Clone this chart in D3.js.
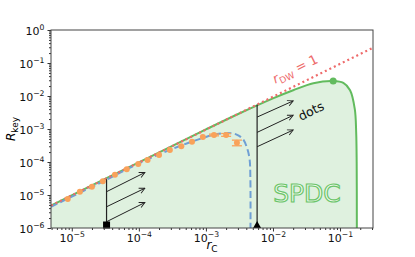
<!DOCTYPE html>
<html>
<head>
<meta charset="utf-8">
<script src="https://cdn.jsdelivr.net/npm/d3@7"></script>
<style>
  body { margin: 0; background: #fff; }
  svg { font-family: "DejaVu Sans", sans-serif; }
</style>
</head>
<body>
<div id="chart"></div>
<script>
// ---- data (r_C, R_key) ----
const xTicks = [1e-5, 1e-4, 1e-3, 1e-2, 1e-1];
const yTicks = [1e-6, 1e-5, 1e-4, 1e-3, 1e-2, 1e-1, 1e0];

// r_DW = 1 reference line
const rdwLine = [[4.9e-6, 4.8e-6], [0.31, 0.29]];

// SPDC bound (green solid)
const spdcCurve = [
  [4.9e-6, 4.8e-6], [1e-4, 9.8e-5], [1e-3, 9.7e-4], [3.2e-3, 3.0e-3],
  [1e-2, 8.5e-3], [2e-2, 1.5e-2], [4e-2, 2.45e-2], [7.9e-2, 2.85e-2],
  [0.112, 2.5e-2], [0.141, 1.5e-2], [0.166, 4e-3], [0.174, 8e-4],
  [0.177, 1e-4], [0.178, 1e-6]
];
const spdcPeak = [7.9e-2, 2.85e-2];

// dots bound (blue dashed)
const dotsCurve = [
  [4.9e-6, 4.4e-6], [3.16e-5, 2.8e-5], [1e-4, 9.1e-5], [2e-4, 1.7e-4],
  [4e-4, 3.0e-4], [6.3e-4, 4.2e-4], [1e-3, 5.75e-4], [1.41e-3, 6.9e-4],
  [2.04e-3, 7.6e-4], [2.82e-3, 6.9e-4], [3.55e-3, 5e-4], [4.07e-3, 2.8e-4],
  [4.47e-3, 1.26e-4], [4.6e-3, 3.2e-5], [4.62e-3, 1e-6]
];

// measured points (orange) with error bars [low, high]
const measX = [8.7e-6, 1.32e-5, 2.0e-5, 2.9e-5, 4.4e-5, 6.6e-5, 9.8e-5, 1.35e-4,
  2.0e-4, 2.9e-4, 4.3e-4, 6.2e-4, 9.0e-4, 1.32e-3, 2.0e-3, 2.9e-3];
const measY = [7.6e-6, 1.26e-5, 1.78e-5, 2.6e-5, 4.1e-5, 6.0e-5, 8.7e-5, 1.15e-4,
  1.62e-4, 2.3e-4, 3.0e-4, 4.1e-4, 5.75e-4, 6.6e-4, 6.6e-4, 3.8e-4];
const measErr = [null, null, null, null, null, null, null, null,
  null, null, null, null, null, [6.2e-4, 7.0e-4], [6.0e-4, 7.3e-4], [3.1e-4, 4.6e-4]];

// vertical markers (x, top of line)
const vLines = [
  { x: 3.3e-5, top: 3.0e-5, marker: "square" },
  { x: 5.8e-3, top: 5.4e-3, marker: "triangle" }
];
// arrows [x0, y0, x1, y1]
const arrows = [
  [3.3e-5, 1.26e-5, 1.23e-4, 4.8e-5],
  [3.3e-5, 4.4e-6, 1.23e-4, 1.6e-5],
  [3.3e-5, 1.55e-6, 1.23e-4, 5.9e-6],
  [5.8e-3, 2.3e-3, 2.0e-2, 7.1e-3],
  [5.8e-3, 7.9e-4, 2.0e-2, 2.6e-3],
  [5.8e-3, 2.9e-4, 2.0e-2, 9.3e-4]
];

// ---- layout ----
const W = 415, H = 257;
const margin = { top: 30, right: 42, bottom: 29, left: 51 };
const width = W - margin.left - margin.right;
const height = H - margin.top - margin.bottom;

const svg = d3.select("#chart").append("svg")
  .attr("width", W).attr("height", H);

const defs = svg.append("defs");
defs.append("clipPath").attr("id", "clip")
  .append("rect").attr("width", width).attr("height", height);
defs.append("marker").attr("id", "head")
  .attr("viewBox", "0 0 10 10").attr("refX", 9).attr("refY", 5)
  .attr("markerWidth", 7).attr("markerHeight", 7)
  .attr("markerUnits", "userSpaceOnUse")
  .attr("orient", "auto")
  .append("path").attr("d", "M1,1 L9,5 L1,9")
  .attr("fill", "none").attr("stroke", "#222").attr("stroke-width", 1.3);

const g = svg.append("g")
  .attr("transform", `translate(${margin.left},${margin.top})`);

const x = d3.scaleLog().domain([4.9e-6, 0.31]).range([0, width]);
const y = d3.scaleLog().domain([1e-6, 1]).range([height, 0]);

const line = d3.line().x(d => x(d[0])).y(d => y(d[1]));
const smooth = d3.line().x(d => x(d[0])).y(d => y(d[1])).curve(d3.curveCatmullRom.alpha(0.5));

const plot = g.append("g").attr("clip-path", "url(#clip)");

// green fill under SPDC curve
plot.append("path")
  .attr("d", smooth(spdcCurve) + `L${x(spdcCurve[spdcCurve.length - 1][0])},${height}L${x(spdcCurve[0][0])},${height}Z`)
  .attr("fill", "#dff1df");

// SPDC text
g.append("text")
  .attr("x", 256).attr("y", 172)
  .attr("text-anchor", "middle")
  .attr("font-size", 25)
  .attr("fill", "#f2faf2")
  .attr("stroke", "#6cc56a").attr("stroke-width", 1.2)
  .text("SPDC");

// green curve
plot.append("path")
  .attr("d", smooth(spdcCurve))
  .attr("fill", "none").attr("stroke", "#62bb5e").attr("stroke-width", 2);
plot.append("circle")
  .attr("cx", x(spdcPeak[0])).attr("cy", y(spdcPeak[1])).attr("r", 3.5)
  .attr("fill", "#62bb5e");

// blue dashed curve
plot.append("path")
  .attr("d", smooth(dotsCurve))
  .attr("fill", "none").attr("stroke", "#6f9fd4").attr("stroke-width", 2)
  .attr("stroke-dasharray", "7,3.5");

// red dotted r_DW = 1
plot.append("path")
  .attr("d", line(rdwLine))
  .attr("fill", "none").attr("stroke", "#ee6b6b").attr("stroke-width", 2.2)
  .attr("stroke-dasharray", "2,3");

// orange points with error bars
const meas = measX.map((v, i) => ({ x: v, y: measY[i], e: measErr[i] }));
const orange = "#f9a25a";
plot.selectAll(".err").data(meas.filter(d => d.e)).enter().append("g")
  .each(function (d) {
    const s = d3.select(this);
    const cx = x(d.x);
    s.append("line").attr("x1", cx).attr("x2", cx)
      .attr("y1", y(d.e[0])).attr("y2", y(d.e[1]));
    s.append("line").attr("x1", cx - 5).attr("x2", cx + 5)
      .attr("y1", y(d.e[0])).attr("y2", y(d.e[0]));
    s.append("line").attr("x1", cx - 5).attr("x2", cx + 5)
      .attr("y1", y(d.e[1])).attr("y2", y(d.e[1]));
  })
  .attr("stroke", orange).attr("stroke-width", 1.3);
plot.selectAll(".dot").data(meas).enter().append("circle")
  .attr("cx", d => x(d.x)).attr("cy", d => y(d.y)).attr("r", 3)
  .attr("fill", orange);

// vertical black lines
g.selectAll(".vl").data(vLines).enter().append("line")
  .attr("x1", d => x(d.x)).attr("x2", d => x(d.x))
  .attr("y1", d => y(d.top)).attr("y2", height)
  .attr("stroke", "#222").attr("stroke-width", 1.2);

// arrows
g.selectAll(".arr").data(arrows).enter().append("line")
  .attr("x1", d => x(d[0])).attr("y1", d => y(d[1]))
  .attr("x2", d => x(d[2])).attr("y2", d => y(d[3]))
  .attr("stroke", "#222").attr("stroke-width", 1)
  .attr("marker-end", "url(#head)");

// labels in the plot
const ang = Math.atan2(y(1e-1) - y(1e-5), x(1e-1) - x(1e-5)) * 180 / Math.PI;
const rl = g.append("text")
  .attr("transform", `translate(246,43) rotate(${ang})`)
  .attr("text-anchor", "middle").attr("font-size", 13).attr("fill", "#ee6b6b");
rl.append("tspan").attr("font-style", "italic").text("r");
rl.append("tspan").attr("font-size", 9).attr("dy", 3).text("DW");
rl.append("tspan").attr("dy", -3).text(" = 1");

g.append("text")
  .attr("transform", `translate(262,85) rotate(${ang})`)
  .attr("text-anchor", "middle").attr("font-size", 12.5).attr("fill", "#111")
  .text("dots");

// markers at bottom
vLines.forEach(d => {
  const cx = x(d.x), cy = height - 2;
  if (d.marker === "square") {
    g.append("rect").attr("x", cx - 3.5).attr("y", cy - 4.5).attr("width", 7).attr("height", 7)
      .attr("fill", "#000");
  } else {
    g.append("path").attr("d", `M${cx},${cy - 5} L${cx + 4},${cy + 2} L${cx - 4},${cy + 2}Z`)
      .attr("fill", "#000");
  }
});

// ---- axes ----
function minorTicks(dom) {
  const out = [];
  const lo = Math.floor(Math.log10(dom[0])), hi = Math.ceil(Math.log10(dom[1]));
  for (let e = lo; e < hi; e++)
    for (let m = 2; m <= 9; m++) {
      const v = m * Math.pow(10, e);
      if (v >= dom[0] && v <= dom[1]) out.push(v);
    }
  return out;
}
function supLabel(sel) {
  sel.each(function (d) {
    const t = d3.select(this);
    const e = Math.round(Math.log10(d));
    t.text(null);
    t.append("tspan").text("10");
    t.append("tspan").attr("font-size", 7.7).attr("dy", -5).text(e < 0 ? "\u2212" + (-e) : e);
  });
}

const xAxis = g.append("g").attr("transform", `translate(0,${height})`)
  .call(d3.axisBottom(x).tickValues(xTicks).tickSize(3.5).tickPadding(3).tickFormat(d => d));
xAxis.selectAll("text").call(supLabel);
g.append("g").attr("transform", `translate(0,${height})`)
  .call(d3.axisBottom(x).tickValues(minorTicks(x.domain())).tickSize(2).tickFormat(""));

const yAxis = g.append("g")
  .call(d3.axisLeft(y).tickValues(yTicks).tickSize(3.5).tickPadding(3).tickFormat(d => d));
yAxis.selectAll("text").call(supLabel).attr("dy", "0.45em");
g.append("g")
  .call(d3.axisLeft(y).tickValues(minorTicks(y.domain())).tickSize(2).tickFormat(""));

g.selectAll(".domain").remove();
g.selectAll(".tick line").attr("stroke", "#333");
g.selectAll(".tick text").attr("font-size", 11).attr("fill", "#111")
  .attr("font-family", "DejaVu Sans");

// frame
g.append("rect").attr("width", width).attr("height", height)
  .attr("fill", "none").attr("stroke", "#444").attr("stroke-width", 1);

// axis titles
const xl = svg.append("text").attr("x", margin.left + width / 2).attr("y", 249)
  .attr("text-anchor", "middle").attr("font-size", 12);
xl.append("tspan").attr("font-style", "italic").text("r");
xl.append("tspan").attr("font-size", 9).attr("dy", 3).text("C");

const yl = svg.append("text")
  .attr("transform", `translate(15,${margin.top + height / 2}) rotate(-90)`)
  .attr("text-anchor", "middle").attr("font-size", 12);
yl.append("tspan").attr("font-style", "italic").text("R");
yl.append("tspan").attr("font-size", 9).attr("dy", 3).text("key");
</script>
</body>
</html>
